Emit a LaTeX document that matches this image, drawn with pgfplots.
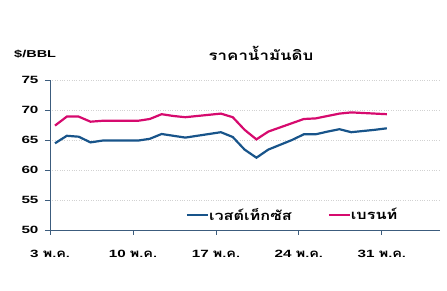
\documentclass[border=0pt]{standalone}
\usepackage{pgfplots}
\pgfplotsset{compat=1.18}
\usepackage{fontspec}
\setmainfont[FakeStretch=1.45]{Liberation Sans}
\newfontfamily\thaifont[Script=Thai,FakeStretch=1.25]{Loma}
\definecolor{wti}{RGB}{24,84,138}
\definecolor{brent}{RGB}{214,10,110}
\definecolor{axcol}{RGB}{60,92,125}
\begin{document}
\begin{tikzpicture}[x=1pt,y=1pt]
\useasboundingbox (0,0) rectangle (447,291);
\node[anchor=west,inner sep=0pt,font=\bfseries\fontsize{10}{12}\selectfont] at (14,237) {\$/BBL};
\node[inner sep=0pt,font=\thaifont\bfseries\fontsize{13.5}{15}\selectfont] at (261,238) {ราคาน้ำมันดิบ};
\begin{axis}[
  at={(50pt,61pt)}, anchor=south west,
  scale only axis, width=390pt, height=150pt,
  xmin=2.58, xmax=35.49, ymin=50, ymax=75,
  axis x line=bottom, axis y line=left,
  axis line style={-, axcol, line width=0.8pt},
  xtick={2.58,9.58,16.58,23.58,30.58},
  xticklabels={3 {\thaifont\fontsize{11.5}{12}\selectfont พ.ค.},10 {\thaifont\fontsize{11.5}{12}\selectfont พ.ค.},17 {\thaifont\fontsize{11.5}{12}\selectfont พ.ค.},24 {\thaifont\fontsize{11.5}{12}\selectfont พ.ค.},31 {\thaifont\fontsize{11.5}{12}\selectfont พ.ค.}},
  ytick={50,55,60,65,70,75},
  /pgf/number format/assume math mode=true,
  ticklabel style={font=\bfseries\fontsize{10.5}{12}\selectfont, black},
  xticklabel style={yshift=-12pt},
  yticklabel style={xshift=-3pt},
  tick style={axcol, line width=0.8pt},
  major tick length=5pt,
  xtick align=outside, ytick align=outside,
  ymajorgrids, grid style={dotted, gray!35, line width=0.5pt},
  legend style={at={(0.622,0.1)}, anchor=center, draw=none, fill=none,
    legend columns=2, font=\thaifont\bfseries\fontsize{13}{14}\selectfont,
    inner sep=0pt,
    /tikz/every odd column/.append style={column sep=-2pt},
    /tikz/every even column/.append style={column sep=34pt}},
  legend image code/.code={\draw[#1, line width=2.2pt] (0pt,0pt) -- (21pt,0pt);},
]
\addplot[wti, line width=2.2pt] coordinates {
(3,64.45) (4,65.7) (5,65.55) (6,64.6) (7,64.9) (8,64.9) (9,64.9) (10,64.9)
(11,65.2) (12,66.0) (13,65.7) (14,65.4) (15,65.7) (16,66.0) (17,66.3) (18,65.5)
(19,63.4) (20,62.05) (21,63.4) (22,64.2) (23,65.0) (24,65.95) (25,65.95) (26,66.4)
(27,66.8) (28,66.3) (29,66.5) (30,66.7) (31,66.95)};
\addlegendentry{เวสต์เท็กซัส}
\addplot[brent, line width=2.2pt] coordinates {
(3,67.4) (4,68.9) (5,68.9) (6,68.05) (7,68.2) (8,68.2) (9,68.2) (10,68.2)
(11,68.5) (12,69.3) (13,69.0) (14,68.8) (15,69.0) (16,69.2) (17,69.4) (18,68.8)
(19,66.7) (20,65.1) (21,66.4) (22,67.1) (23,67.8) (24,68.5) (25,68.6) (26,69.0)
(27,69.4) (28,69.6) (29,69.5) (30,69.4) (31,69.3)};
\addlegendentry{เบรนท์}
\end{axis}
\end{tikzpicture}
\end{document}
